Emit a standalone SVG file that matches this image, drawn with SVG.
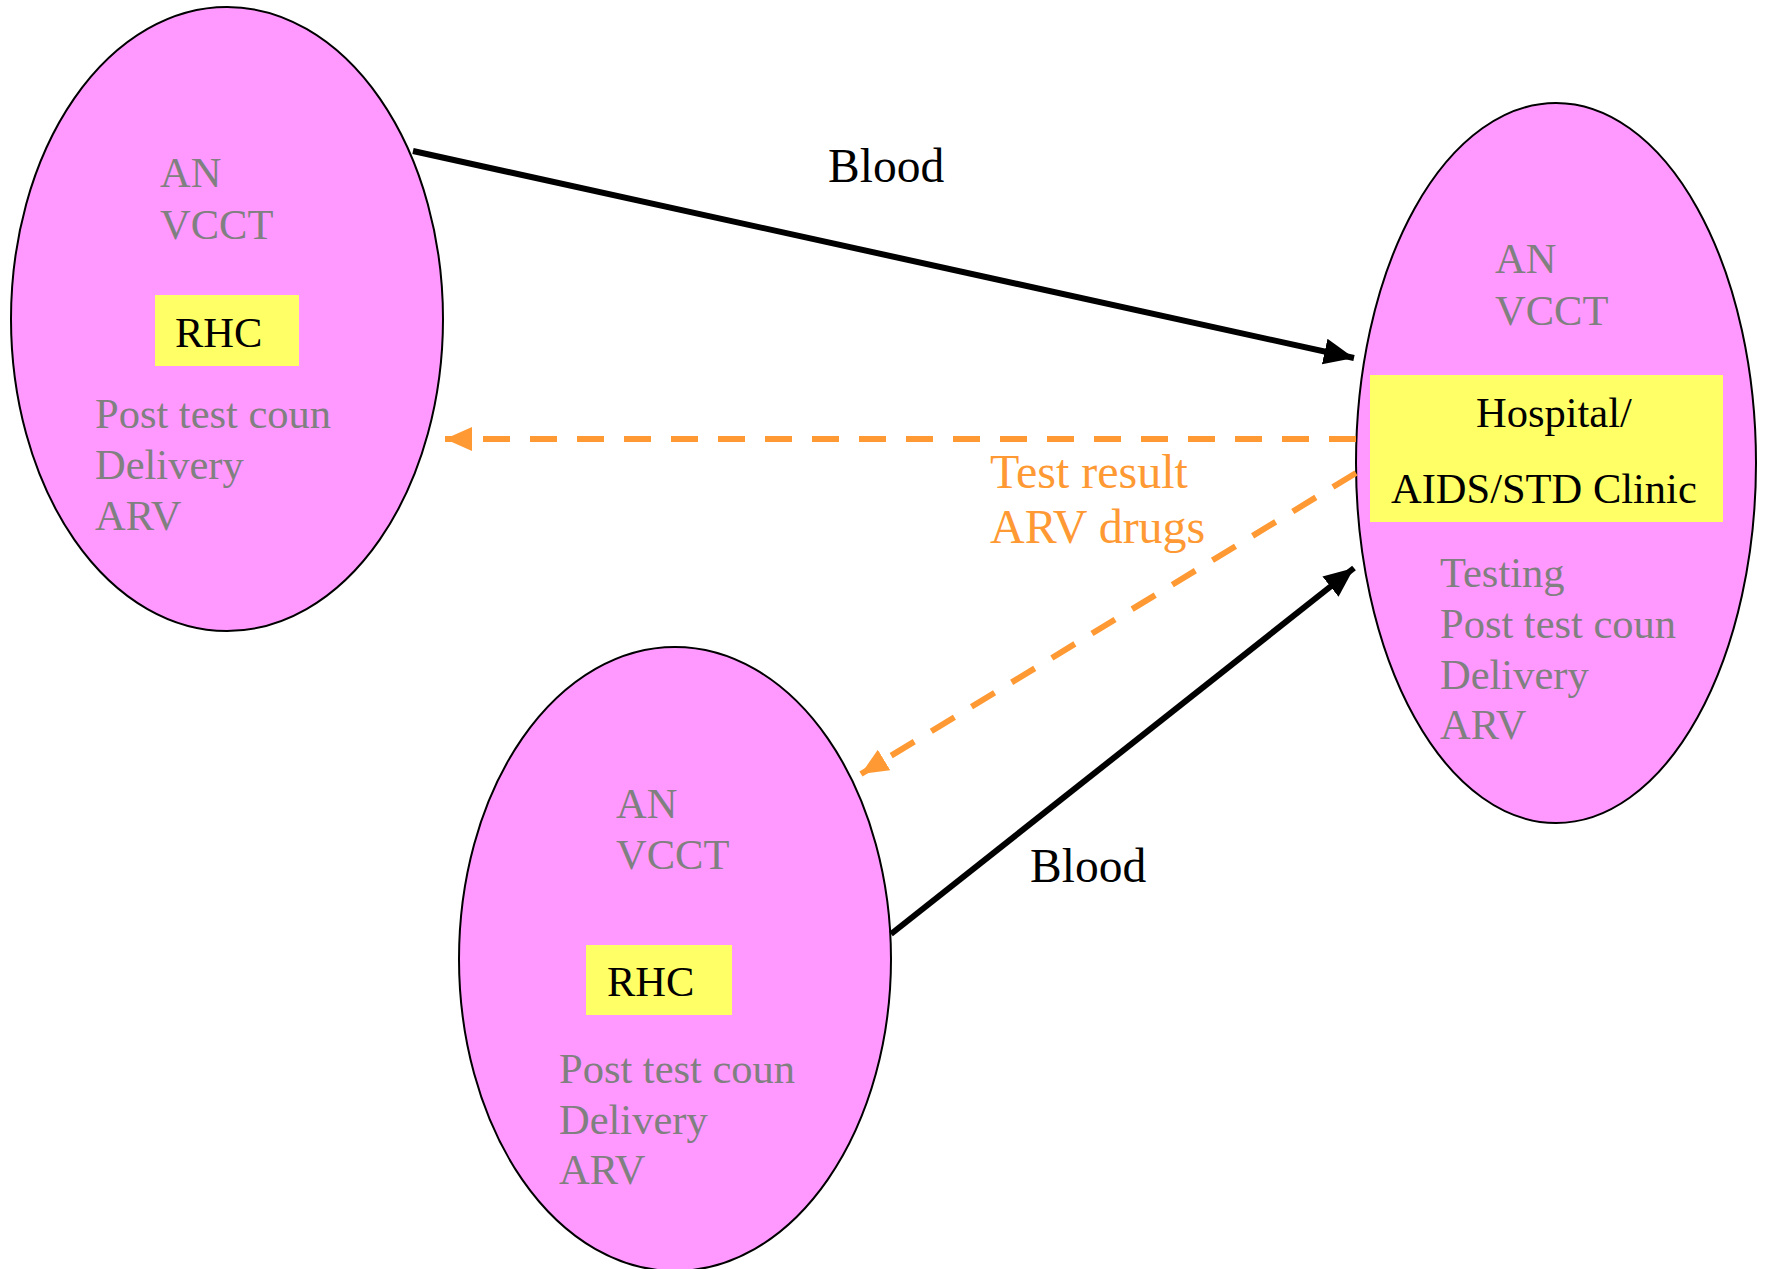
<svg xmlns="http://www.w3.org/2000/svg" width="1765" height="1269" viewBox="0 0 1765 1269">
<defs>
<marker id="ab" markerUnits="userSpaceOnUse" markerWidth="32" markerHeight="28" refX="30" refY="14" orient="auto"><path d="M0,1 L30,14 L0,27 Z" fill="#000"/></marker>
<marker id="ao" markerUnits="userSpaceOnUse" markerWidth="30" markerHeight="28" refX="27" refY="13" orient="auto"><path d="M0,1 L27,13 L0,25 Z" fill="#FF9933"/></marker>
</defs>
<style>
.node{fill:#FF99FF;stroke:#000;stroke-width:2}
.box{fill:#FFFF66}
.g{font-family:"Liberation Serif","Times New Roman",serif;font-size:42.5px;fill:#808080}
.k{font-family:"Liberation Serif","Times New Roman",serif;font-size:42.5px;fill:#000}
.lbl{font-family:"Liberation Serif","Times New Roman",serif;font-size:47.5px;fill:#000}
.olbl{font-family:"Liberation Serif","Times New Roman",serif;font-size:48px;fill:#FF9933}
.solid{stroke:#000;stroke-width:6;fill:none}
.dash{stroke:#FF9933;stroke-width:6;fill:none;stroke-dasharray:27 20}
</style>
<rect width="1765" height="1269" fill="#fff"/>
<g id="node-left">
<ellipse class="node" cx="227" cy="319" rx="216" ry="312"/>
<text class="g" x="160" y="187">AN</text>
<text class="g" x="160" y="239">VCCT</text>
<rect class="box" x="155" y="295" width="144" height="71"/>
<text class="k" x="175" y="347">RHC</text>
<text class="g" x="95" y="428">Post test coun</text>
<text class="g" x="95" y="479">Delivery</text>
<text class="g" x="95" y="530">ARV</text>
</g>
<g id="node-hospital">
<ellipse class="node" cx="1556" cy="463" rx="200" ry="360"/>
<text class="g" x="1495" y="273">AN</text>
<text class="g" x="1495" y="325">VCCT</text>
<rect class="box" x="1370" y="375" width="353" height="147"/>
<text class="k" x="1476" y="427">Hospital/</text>
<text class="k" x="1391" y="503">AIDS/STD Clinic</text>
<text class="g" x="1440" y="587">Testing</text>
<text class="g" x="1440" y="638">Post test coun</text>
<text class="g" x="1440" y="689">Delivery</text>
<text class="g" x="1440" y="739">ARV</text>
</g>
<g id="node-bottom">
<ellipse class="node" cx="675" cy="959" rx="216" ry="312"/>
<text class="g" x="616" y="818">AN</text>
<text class="g" x="616" y="869">VCCT</text>
<rect class="box" x="586" y="945" width="146" height="70"/>
<text class="k" x="607" y="996">RHC</text>
<text class="g" x="559" y="1083">Post test coun</text>
<text class="g" x="559" y="1134">Delivery</text>
<text class="g" x="559" y="1184">ARV</text>
</g>
<g id="connectors">
<line class="solid" x1="413" y1="151" x2="1354" y2="358" marker-end="url(#ab)"/>
<line class="solid" x1="891" y1="934" x2="1354" y2="568" marker-end="url(#ab)"/>
<line class="dash" x1="1356" y1="439" x2="445" y2="439" marker-end="url(#ao)"/>
<line class="dash" x1="1356" y1="473" x2="861" y2="774" marker-end="url(#ao)"/>
<text class="lbl" x="828" y="182">Blood</text>
<text class="lbl" x="1030" y="882">Blood</text>
<text class="olbl" x="990" y="488">Test result</text>
<text class="olbl" x="990" y="543">ARV drugs</text>
</g>
</svg>
